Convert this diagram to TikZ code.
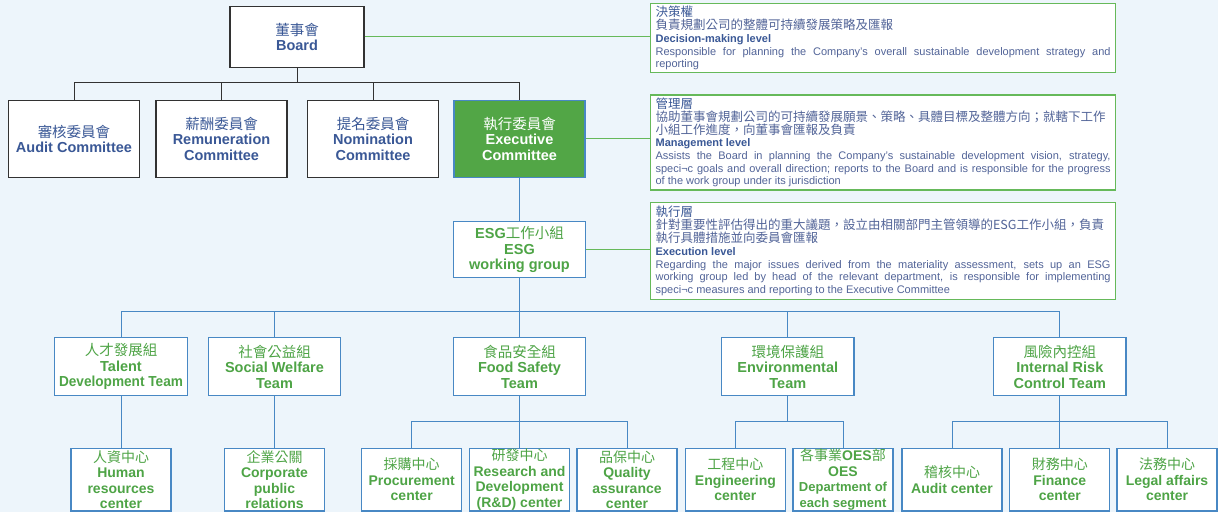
\documentclass[tikz,border=0pt]{standalone}
\usepackage{fontspec}
\setmainfont{Liberation Sans}
\newfontfamily\cjk{Noto Sans CJK TC}
\usepackage{xcolor}
\usepackage{tikz}
\definecolor{bgblue}{RGB}{237,245,251}
\definecolor{navy}{RGB}{58,88,150}
\definecolor{desctext}{RGB}{82,100,152}
\definecolor{leaf}{RGB}{78,164,70}
\definecolor{execgreen}{RGB}{82,166,70}
\definecolor{linkblue}{RGB}{72,136,196}
\definecolor{descgreen}{RGB}{102,185,90}
\definecolor{treegray}{RGB}{50,50,50}
\newcommand\zh[1]{{\cjk\mdseries #1}}
\newcommand\oesline[1]{{\fontsize{13}{15.5}\selectfont #1}}
\tikzset{
	treeline/.style={draw=treegray, line width=1pt},
	bluelink/.style={draw=linkblue, line width=1pt},
	greenlink/.style={draw=descgreen, line width=1pt},
	topbox/.style={draw=treegray, line width=1.2pt, fill=white, text=navy, align=center, inner sep=0pt, minimum width=131pt, minimum height=77pt, font={\fontsize{14.5}{15.5}\selectfont\bfseries}},
	teambox/.style={draw=linkblue, line width=1.2pt, fill=white, text=leaf, align=center, inner sep=0pt, minimum width=132.5pt, minimum height=57.6pt, font={\fontsize{14.5}{15.5}\selectfont\bfseries}},
	leafbox/.style={teambox, minimum width=100pt, minimum height=62.7pt, font={\fontsize{14}{15.5}\selectfont\bfseries}},
	descbox/.style={draw=descgreen, line width=1.2pt, fill=white, text=desctext, anchor=north west, text width=455pt, inner xsep=5pt, inner ysep=2pt, align=justify, font={\fontsize{11}{12.7}\selectfont\parindent=0pt}}
}
\begin{document}
\begin{tikzpicture}[x=1pt,y=-1pt]
		\fill[bgblue] (0,0) rectangle (1218,512);
		\useasboundingbox (0,0) rectangle (1218,512);
		\node[topbox, minimum width=134pt, minimum height=61pt] (board) at (297,36.7) {\zh{董事會}\\Board};
		\node[topbox] (audit) at (74,138.7) {\zh{審核委員會}\\Audit Committee};
		\node[topbox] (remun) at (221.5,138.7) {\zh{薪酬委員會}\\Remuneration\\Committee};
		\node[topbox] (nomin) at (373,138.7) {\zh{提名委員會}\\Nomination\\Committee};
		\node[topbox, fill=execgreen, draw=linkblue, text=white] (exec) at (519.5,138.7) {\zh{執行委員會}\\Executive\\Committee};
		\coordinate (boardbus) at (297,82.7);
		\draw[treeline] (board.south) -- (boardbus);
		\foreach \c in {audit,remun,nomin,exec}
			\draw[treeline] (boardbus) -| (\c.north);
		\node[teambox, minimum width=131.3pt, minimum height=56pt] (esg) at (519.5,249.7) {ESG\zh{工作小組}\\ESG\\working group};
		\draw[bluelink] (exec.south) -- (esg.north);
		\node[teambox] (talent) at (121,366.5) {\zh{人才發展組}\\Talent\\{\addfontfeature{FakeStretch=0.94}Development Team}};
		\node[teambox] (social) at (274.5,366.5) {\zh{社會公益組}\\Social Welfare\\Team};
		\node[teambox] (food) at (519.5,366.5) {\zh{食品安全組}\\Food Safety\\Team};
		\node[teambox] (env) at (787.8,366.5) {\zh{環境保護組}\\Environmental\\Team};
		\node[teambox] (risk) at (1059.8,366.5) {\zh{風險內控組}\\Internal Risk\\Control Team};
		\coordinate (esgbus) at (519.5,311.7);
		\draw[bluelink] (esg.south) -- (esgbus);
		\foreach \t in {talent,social,food,env,risk}
			\draw[bluelink] (esgbus) -| (\t.north);
		\node[leafbox] (human) at (121,479.6) {\zh{人資中心}\\Human\\resources\\center};
		\node[leafbox] (corp) at (274.5,479.6) {\zh{企業公關}\\Corporate\\public\\relations};
		\node[leafbox] (proc) at (411.7,479.6) {\zh{採購中心}\\Procurement\\center};
		\node[leafbox] (rnd) at (519.5,479.6) {\zh{研發中心}\\Research and\\Development\\(R\&D) center};
		\node[leafbox] (qa) at (627,479.6) {\zh{品保中心}\\Quality\\assurance\\center};
		\node[leafbox] (eng) at (735.4,479.6) {\zh{工程中心}\\Engineering\\center};
		\node[leafbox] (oes) at (843,479.6) {\zh{各事業}OES\zh{部}\\OES\\\oesline{Department of}\\\oesline{each segment}};
		\node[leafbox] (auditc) at (952,479.6) {\zh{稽核中心}\\Audit center};
		\node[leafbox] (fin) at (1059.8,479.6) {\zh{財務中心}\\Finance\\center};
		\node[leafbox] (legal) at (1167,479.6) {\zh{法務中心}\\Legal affairs\\center};
		\draw[bluelink] (talent.south) -- (human.north);
		\draw[bluelink] (social.south) -- (corp.north);
		\coordinate (foodbus) at (519.5,421.7);
		\draw[bluelink] (food.south) -- (foodbus);
		\foreach \l in {proc,rnd,qa}
			\draw[bluelink] (foodbus) -| (\l.north);
		\coordinate (envbus) at (787.8,421.7);
		\draw[bluelink] (env.south) -- (envbus);
		\foreach \l in {eng,oes}
			\draw[bluelink] (envbus) -| (\l.north);
		\coordinate (riskbus) at (1059.8,421.7);
		\draw[bluelink] (risk.south) -- (riskbus);
		\foreach \l in {auditc,fin,legal}
			\draw[bluelink] (riskbus) -| (\l.north);
		\node[descbox, minimum height=69pt] (decide) at (650,3) {{\cjk\fontsize{12.5}{13}\selectfont \textcolor{navy}{決策權}\\負責規劃公司的整體可持續發展策略及匯報\par}{\bfseries\textcolor{navy}{Decision-making level}\par}Responsible for planning the Company’s overall sustainable development strategy and\linebreak reporting};
		\node[descbox, minimum height=95pt] (manage) at (650,94.3) {{\cjk\fontsize{12.5}{13}\selectfont \textcolor{navy}{管理層}\\協助董事會規劃公司的可持續發展願景、策略、具體目標及整體方向；就轄下工作\\小組工作進度，向董事會匯報及負責\par}{\bfseries\textcolor{navy}{Management level}\par}Assists the Board in planning the Company’s sustainable development vision, strategy,\linebreak speci¬c goals and overall direction; reports to the Board and is responsible for the progress\linebreak of the work group under its jurisdiction};
		\node[descbox, minimum height=96.7pt] (execute) at (650,202) {{\cjk\fontsize{12.5}{13}\selectfont \textcolor{navy}{執行層}\\針對重要性評估得出的重大議題，設立由相關部門主管領導的ESG工作小組，負責\\執行具體措施並向委員會匯報\par}{\bfseries\textcolor{navy}{Execution level}\par}Regarding the major issues derived from the materiality assessment, sets up an ESG\linebreak working group led by head of the relevant department, is responsible for implementing\linebreak speci¬c measures and reporting to the Executive Committee};
		\draw[greenlink] (board.east) -- (board.east -| decide.west);
		\draw[greenlink] (exec.east) -- (exec.east -| manage.west);
		\draw[greenlink] (esg.east) -- (esg.east -| execute.west);
	\end{tikzpicture}
\end{document}
